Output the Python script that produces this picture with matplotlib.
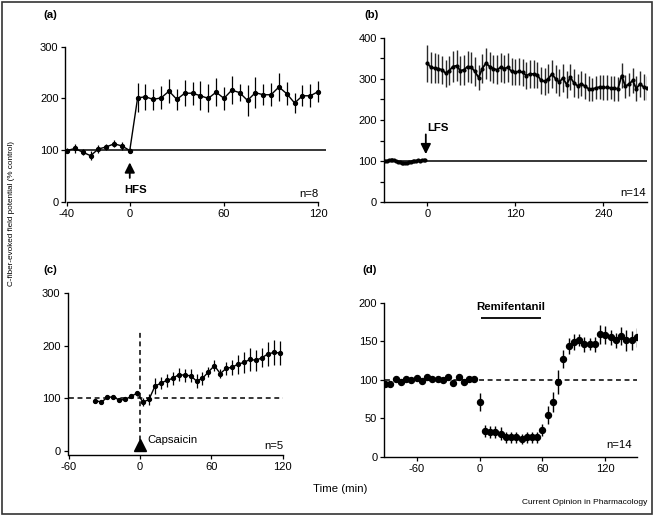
import matplotlib
matplotlib.use("Agg")
import matplotlib.pyplot as plt
from matplotlib.patches import Rectangle

plt.rcParams['font.family'] = ['Liberation Sans', 'DejaVu Sans']
plt.rcParams['axes.unicode_minus'] = False

# ---------------- data ----------------
# (a) HFS
a_pre_t = [-40, -35, -30, -25, -20, -15, -10, -5, 0]
a_pre_v = [99, 103, 96, 89, 102, 106, 112, 108, 99]
a_pre_e = [5, 8, 6, 9, 7, 6, 7, 8, 5]
a_post_t = [5, 10, 15, 20, 25, 30, 35, 40, 45, 50, 55, 60, 65, 70, 75, 80,
            85, 90, 95, 100, 105, 110, 115, 120]
a_post_v = [201, 203, 198, 201, 214, 198, 210, 210, 205, 200, 212, 200, 216,
            211, 196, 211, 207, 207, 222, 209, 191, 205, 205, 213]
a_post_e = [28, 25, 20, 22, 23, 20, 25, 22, 28, 27, 27, 22, 27, 17, 30, 30,
            20, 22, 27, 22, 20, 20, 22, 20]

# (b) LFS
b_pre_t = [-57.5, -55, -52.5, -50, -47.5, -45, -42.5, -40, -37.5, -35, -32.5,
           -30, -27.5, -25, -22.5, -20, -17.5, -15, -12.5, -10, -7.5, -5, -2.5]
b_pre_v = [101, 101, 102, 103, 104, 102, 100, 99, 97, 96, 95, 95, 96, 97, 98,
           100, 101, 101, 102, 101, 102, 102, 102]
b_pre_e = [2] * 23
b_post_t = [0, 5, 10, 15, 20, 25, 30, 35, 40, 45, 50, 55, 60, 65, 70, 75, 80,
            85, 90, 95, 100, 105, 110, 115, 120, 125, 130, 135, 140, 145, 150,
            155, 160, 165, 170, 175, 180, 185, 190, 195, 200, 205, 210, 215,
            220, 225, 230, 235, 240, 245, 250, 255, 260, 265, 270, 275, 280,
            285, 290, 295, 300]
b_post_v = [338, 328, 326, 325, 322, 314, 320, 330, 332, 320, 322, 330, 328,
            318, 303, 325, 338, 330, 325, 322, 328, 325, 328, 318, 316, 318,
            316, 308, 312, 312, 310, 296, 294, 300, 312, 300, 292, 302, 286,
            304, 290, 283, 288, 282, 276, 275, 278, 280, 279, 279, 278, 277,
            276, 308, 282, 287, 296, 276, 288, 280, 278]
b_post_e = [45, 38, 36, 35, 34, 33, 35, 38, 38, 35, 36, 38, 37, 35, 30, 35,
            38, 36, 34, 35, 36, 34, 35, 33, 32, 32, 33, 32, 34, 35, 32, 34,
            33, 35, 35, 34, 33, 35, 33, 32, 33, 30, 30, 32, 30, 28, 28, 30,
            30, 30, 28, 30, 29, 30, 28, 28, 30, 30, 32, 32, 30]

# (c) Capsaicin
c_t = [-37.5, -32.5, -27.5, -22.5, -17.5, -12.5, -7.5, -2.5, 2.5, 7.5, 12.5,
       17.5, 22.5, 27.5, 32.5, 37.5, 42.5, 47.5, 52.5, 57.5, 62.5, 67.5, 72.5,
       77.5, 82.5, 87.5, 92.5, 97.5, 102.5, 107.5, 112.5, 117.5]
c_v = [96, 93, 102, 103, 97, 98, 104, 110, 93, 98, 123, 129, 134, 138, 145,
       144, 143, 133, 138, 150, 162, 147, 157, 159, 165, 168, 174, 172, 177,
       184, 187, 186]
c_e = [3, 3, 3, 3, 3, 3, 4, 5, 8, 10, 15, 12, 12, 12, 12, 12, 12, 14, 12, 10,
       10, 8, 12, 14, 18, 20, 22, 20, 18, 22, 23, 22]

# (d) Remifentanil
d_t = [-90, -85, -80, -75, -70, -65, -60, -55, -50, -45, -40, -35, -30, -25,
       -20, -15, -10, -5, 0, 5, 10, 15, 20, 25, 30, 35, 40, 45, 50, 55, 60, 65,
       70, 75, 80, 85, 90, 95, 100, 105, 110, 115, 120, 125, 130, 135, 140,
       145, 150]
d_v = [95, 94, 101, 97, 101, 99, 102, 98, 103, 101, 101, 100, 103, 96, 104, 97,
       101, 101, 71, 33, 32, 32, 30, 25, 25, 25, 23, 25, 25, 25, 35, 54, 71, 97,
       127, 144, 149, 152, 146, 146, 146, 159, 158, 155, 151, 157, 151, 151,
       155]
d_e = [2, 2, 2, 2, 2, 2, 2, 2, 2, 2, 2, 2, 2, 2, 2, 2, 2, 2, 12, 8, 8, 8, 8,
       7, 7, 7, 7, 7, 7, 7, 8, 12, 13, 15, 12, 10, 10, 8, 10, 8, 10, 12, 12,
       10, 10, 12, 14, 12, 12]

# ---------------- figure ----------------
W, H = 657, 517
fig = plt.figure(figsize=(W / 100, H / 100), dpi=100)

def rect(l, r, t, b):
    return [l / W, 1 - b / H, (r - l) / W, (b - t) / H]

TICK = 8
LBL = 8.2
ARROW = dict(arrowstyle='-|>,head_width=0.3,head_length=0.6', color='k',
             lw=1.3, shrinkA=0, shrinkB=0)

def style(ax):
    for s in ('top', 'right'):
        ax.spines[s].set_visible(False)
    for s in ('left', 'bottom'):
        ax.spines[s].set_linewidth(1.0)
    ax.tick_params(direction='out', length=3, width=0.9, labelsize=TICK,
                   pad=2)
    ax.tick_params(which='minor', direction='out', length=3, width=0.9)

# (a)
axa = fig.add_axes(rect(65.4, 326, 46.7, 201.7))
style(axa)
axa.set_xlim(-41, 125)
axa.set_ylim(0, 300)
axa.spines['bottom'].set_bounds(-40, 120)
axa.set_xticks([-40, 0, 60, 120])
axa.set_yticks([0, 100, 200, 300])
axa.axhline(100, color='k', lw=1.1)
axa.errorbar(a_pre_t + a_post_t, a_pre_v + a_post_v, yerr=a_pre_e + a_post_e,
             color='k', lw=1.0, elinewidth=0.9, marker='o', ms=2.8, capsize=0)
axa.annotate('', xy=(0, 76), xytext=(0, 46), arrowprops=ARROW)
axa.text(4, 22, 'HFS', ha='center', va='center', fontsize=LBL,
         fontweight='bold')
axa.text(120.5, 14, 'n=8', ha='right', va='center', fontsize=LBL)

# (b)
axb = fig.add_axes(rect(384.0, 647.3, 37.7, 202.3))
style(axb)
axb.set_xlim(-59, 300)
axb.set_ylim(0, 400)
axb.set_xticks([0, 120, 240])
axb.set_yticks([0, 100, 200, 300, 400])
axb.set_yticks([50, 150, 250, 350], minor=True)
axb.axhline(100, color='k', lw=1.1)
axb.errorbar(b_pre_t, b_pre_v, yerr=b_pre_e, color='k', lw=1.4,
             elinewidth=0.8, marker='o', ms=2.0, capsize=0)
axb.errorbar(b_post_t, b_post_v, yerr=b_post_e, color='k', ecolor='#2a2a2a',
             lw=1.3, elinewidth=1.0, marker='o', ms=2.0, capsize=0)
axb.annotate('', xy=(-2, 117), xytext=(-2, 165), arrowprops=ARROW)
axb.text(0, 181, 'LFS', ha='left', va='center', fontsize=LBL,
         fontweight='bold')
axb.text(298, 22, 'n=14', ha='right', va='center', fontsize=LBL)

# (c)
axc = fig.add_axes(rect(67.5, 283.9, 292.7, 455))
style(axc)
axc.set_xlim(-61, 121)
axc.set_ylim(-7, 300)
axc.spines['bottom'].set_bounds(-60, 120)
axc.set_xticks([-60, 0, 60, 120])
axc.set_yticks([0, 100, 200, 300])
axc.hlines(100, -60, 120, colors='k', lw=1.1, linestyles=(0, (3.2, 2.4)))
axc.vlines(0, 5, 226, colors='k', lw=1.1, linestyles=(0, (3.2, 2.4)))
axc.errorbar(c_t, c_v, yerr=c_e, color='k', lw=1.0, elinewidth=0.9,
             marker='o', ms=2.8, capsize=0)
axc.plot([0], [12], marker='^', color='k', ms=8, clip_on=False)
axc.text(6, 21, 'Capsaicin', ha='left', va='center', fontsize=LBL)
axc.text(120.5, 10, 'n=5', ha='right', va='center', fontsize=LBL)

# (d)
axd = fig.add_axes(rect(384.2, 636.8, 302.7, 456.7))
style(axd)
axd.set_xlim(-91, 150)
axd.set_ylim(0, 200)
axd.spines['bottom'].set_bounds(-90, 150)
axd.set_xticks([-60, 0, 60, 120])
axd.set_yticks([0, 50, 100, 150, 200])
axd.hlines(100, -90, 150, colors='k', lw=1.1, linestyles=(0, (3.2, 2.4)))
axd.errorbar(d_t, d_v, yerr=d_e, color='k', lw=0, elinewidth=1.0,
             marker='o', ms=4.3, capsize=0, linestyle='none')
axd.hlines(180, 1, 59, colors='k', lw=1.3)
axd.text(30, 195, 'Remifentanil', ha='center', va='center', fontsize=LBL,
         fontweight='bold')
axd.text(145, 15, 'n=14', ha='right', va='center', fontsize=LBL)

# panel letters
for lab, px, py in [('(a)', 50.5, 15), ('(b)', 371.5, 15), ('(c)', 50.5, 270),
                    ('(d)', 370, 270)]:
    fig.text(px / W, 1 - py / H, lab, ha='center', va='center',
             fontsize=LBL, fontweight='bold')

fig.text(11.7 / W, 1 - 213 / H, 'C-fiber-evoked field potential (% control)',
         rotation=90, ha='center', va='center', fontsize=5.9)
fig.text(340.5 / W, 1 - 489 / H, 'Time (min)', ha='center', va='center',
         fontsize=LBL)
fig.text(647 / W, 1 - 503 / H, 'Current Opinion in Pharmacology',
         ha='right', va='center', fontsize=6.0)

fig.patches.append(Rectangle((1.5 / W, 1 - 513.5 / H), (650 / W),
                             (512 / H), transform=fig.transFigure,
                             fill=False, edgecolor='#333333', lw=1.2))

fig.savefig('out.png', dpi=100)
